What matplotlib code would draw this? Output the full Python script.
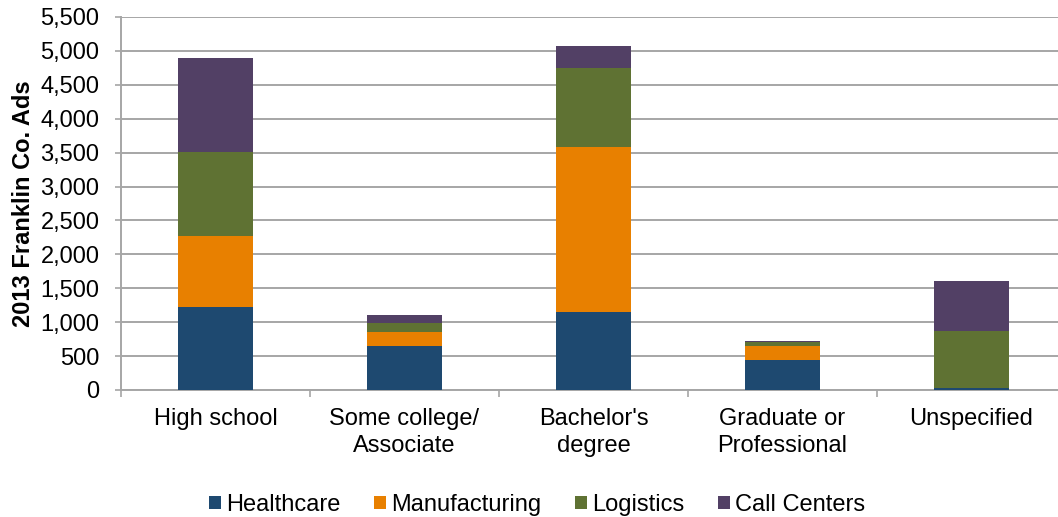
# stacked bars: 2013 Franklin Co. job ads by education level

import numpy as np
import matplotlib.pyplot as plt
from matplotlib.ticker import FuncFormatter, FixedLocator

plt.rcParams['font.family'] = ['Liberation Sans', 'DejaVu Sans']

# data
categories = ['High school', 'Some college/\nAssociate', "Bachelor's\ndegree",
              'Graduate or\nProfessional', 'Unspecified']
healthcare = [1225, 655, 1143, 448, 34]
manufacturing = [1040, 202, 2442, 197, 0]
logistics = [1242, 128, 1165, 59, 838]
call_centers = [1390, 128, 325, 25, 734]

series = [('Healthcare', healthcare, '#1E4970'),
          ('Manufacturing', manufacturing, '#E88000'),
          ('Logistics', logistics, '#5F7233'),
          ('Call Centers', call_centers, '#524065')]

fig = plt.figure(figsize=(10.58, 5.17), dpi=100)
ax = fig.add_axes([121/1058, 1 - 390/517, (1066-121)/1058, (390-17)/517])

x = np.arange(len(categories))
bottom = np.zeros(len(categories))
for name, vals, col in series:
    ax.bar(x, vals, 0.4, bottom=bottom, color=col, label=name, zorder=3)
    bottom += np.array(vals)

ax.set_xlim(-0.5, len(categories) - 0.5)
ax.set_ylim(0, 5500)
ax.set_yticks(np.arange(0, 5501, 500))
ax.yaxis.set_major_formatter(FuncFormatter(lambda v, p: f'{int(v):,}'))
ax.grid(axis='y', color='#a6a6a6', linewidth=1.4, zorder=0)

ax.set_xticks(x)
ax.set_xticklabels(categories, fontsize=17, linespacing=1.3)
ax.xaxis.set_minor_locator(FixedLocator(np.arange(-0.5, len(categories), 1)))
ax.tick_params(axis='x', which='major', length=0, pad=13)
ax.tick_params(axis='x', which='minor', length=5, color='#a6a6a6', width=1.2)
ax.tick_params(axis='y', length=4.5, color='#a6a6a6', width=1.2, labelsize=17, pad=11)

for s in ['top', 'right']:
    ax.spines[s].set_visible(False)
for s in ['left', 'bottom']:
    ax.spines[s].set_color('#a6a6a6')
    ax.spines[s].set_linewidth(1.4)

ax.set_ylabel('2013 Franklin Co. Ads', fontsize=17, fontweight='bold', labelpad=4)

fig.legend(loc='center', bbox_to_anchor=(537/1058, 1 - 505/517), ncol=4, frameon=False,
           fontsize=17, handlelength=0.5, handleheight=0.5, handletextpad=0.2,
           columnspacing=1.45, borderpad=0)

fig.savefig('out.png', dpi=100)
